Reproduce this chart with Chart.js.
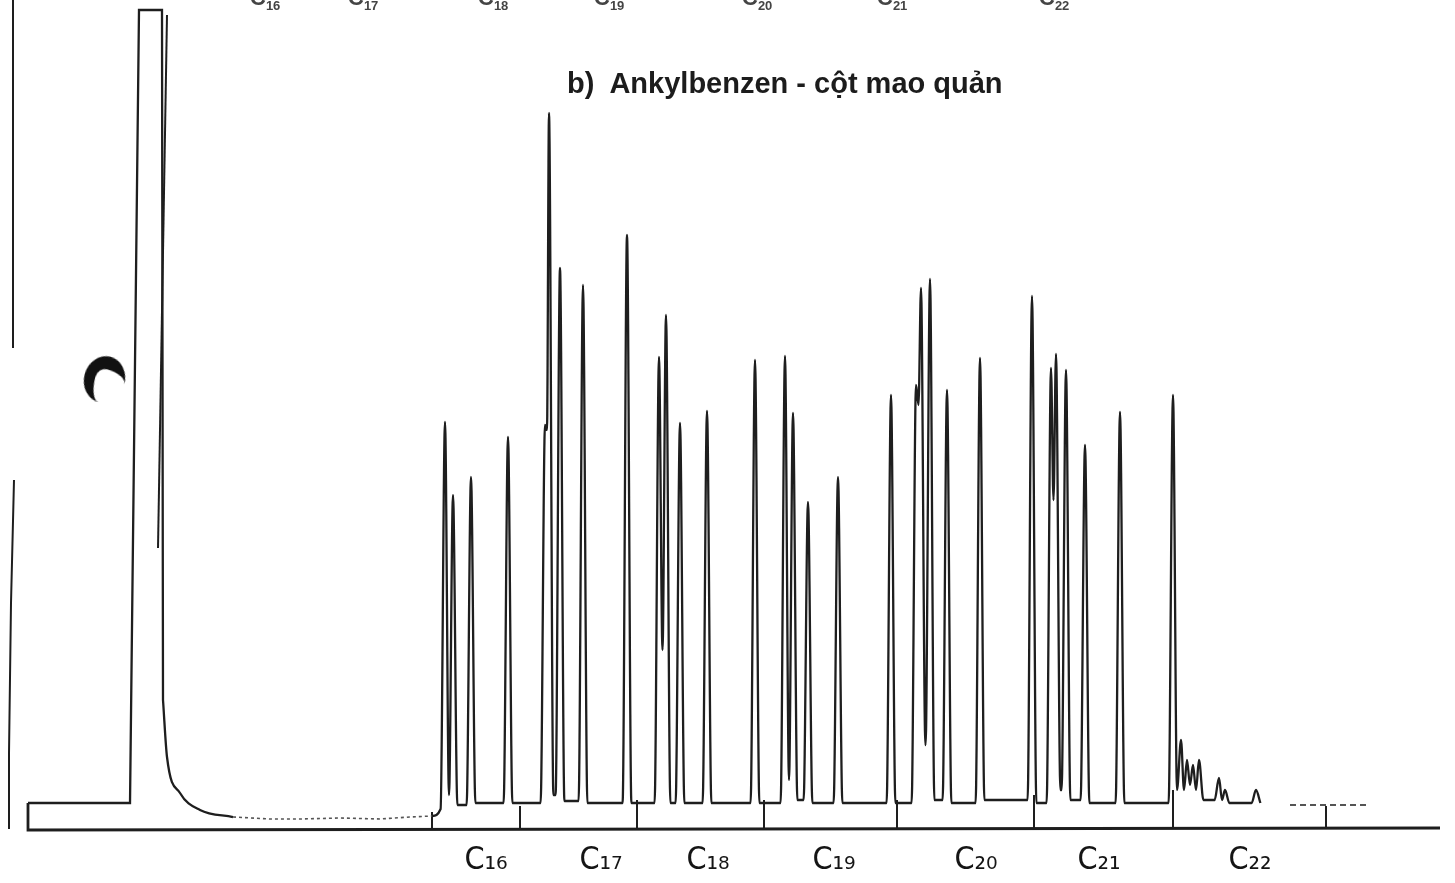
<!DOCTYPE html>
<html>
<head>
<meta charset="utf-8">
<script src="https://cdn.jsdelivr.net/npm/chart.js@4.4.1/dist/chart.umd.min.js"></script>
<style>
  body { margin: 0; background: #fff; }
  #wrap { position: relative; width: 1455px; height: 883px; overflow: hidden; }
  .title { position: absolute; left: 567px; top: 67px; font: bold 29px "Liberation Sans", Arial, sans-serif; color: #1c1c1c; white-space: pre; }
  .prev { position: absolute; top: -15px; font: bold 22px "Liberation Sans", Arial, sans-serif; color: #444; }
  .prev sub { font-size: 13px; }
  .blob { position: absolute; left: 84px; top: 356px; width: 30px; height: 34px; border-radius: 50%;
          border-top: 13px solid #111; border-left: 11px solid #111; transform: rotate(15deg); }
</style>
</head>
<body>
<div id="wrap">
  <canvas id="chromatogram"></canvas>
  <div class="title">b)  Ankylbenzen - cột mao quản</div>
  <div class="prev" style="left:250px">C<sub>16</sub></div>
  <div class="prev" style="left:348px">C<sub>17</sub></div>
  <div class="prev" style="left:478px">C<sub>18</sub></div>
  <div class="prev" style="left:594px">C<sub>19</sub></div>
  <div class="prev" style="left:742px">C<sub>20</sub></div>
  <div class="prev" style="left:877px">C<sub>21</sub></div>
  <div class="prev" style="left:1039px">C<sub>22</sub></div>
  <div class="blob"></div>
</div>
<script>
// retention time (min) / detector signal
const carbonLabels = ['C₁₆', 'C₁₇', 'C₁₈', 'C₁₉', 'C₂₀', 'C₂₁', 'C₂₂'];
const carbonLabelTimes = [24.3, 30.05, 35.4, 41.7, 48.8, 54.95, 62.5];

const segmentMarks = [21.6, 26.0, 31.85, 38.2, 44.85, 51.7, 58.65, 66.3];
const segmentMarkTops = [-0.9, -0.3, 0.3, 0.3, 0.3, 0.8, 1.3, -0.3];

// solvent peak (pen off scale) and its tail
const solventTimes = [1.4, 6.5, 6.95, 8.1, 8.15];
const solventSignal = [0, 0, 79.3, 79.3, 10.3];
const solventTailTimes = [8.15, 8.35, 9.0, 10.0, 11.65];
const solventTailSignal = [10.3, 4.6, 1.0, -0.7, -1.4];
const secondPenTimes = [8.35, 7.9];
const secondPenSignal = [78.8, 25.5];

const driftTimes = [11.65, 13.5, 15.0, 17.0, 19.0, 20.5, 21.6];
const driftSignal = [-1.4, -1.6, -1.6, -1.5, -1.6, -1.4, -1.3];

// alkylbenzene peaks: apex time, apex height, level of the valley after it
const peakTimes = [22.25, 22.65, 23.55, 25.4, 27.25, 27.45, 28.0, 29.15, 31.35,
  32.95, 33.3, 34.0, 35.35, 37.75, 39.25, 39.65, 40.4, 41.9, 44.55,
  45.8, 46.05, 46.5, 47.35, 49.0, 51.6, 52.55, 52.8, 53.3, 54.25, 56.0,
  58.65, 59.05, 59.35, 59.65, 59.95, 60.95, 61.25, 62.8];
const peakHeights = [38.1, 30.8, 32.6, 36.6, 37.8, 69.0, 53.5, 51.8, 56.8,
  44.6, 48.8, 38.0, 39.2, 44.3, 44.7, 39.0, 30.1, 32.6, 40.8,
  41.8, 51.5, 52.4, 41.3, 44.5, 50.7, 43.5, 44.9, 43.3, 35.8, 39.1,
  40.8, 6.3, 4.3, 3.8, 4.3, 2.5, 1.3, 1.3];
const valleyHeights = [0.8, -0.2, 0, 0, 37.3, 0.8, 0.2, 0, 0,
  15.3, 0, 0, 0, 0, 2.3, 0.3, 0, 0, 0,
  39.8, 5.8, 0.3, 0, 0.3, 0, 30.3, 1.3, 0.3, 0, 0,
  1.3, 1.3, 1.8, 1.3, 0.3, 0.3, 0, 0];

const tailTimes = [64.5, 68.5];
const tailSignal = [-0.2, -0.2];

const axisTimes = [1.4, 1.4, 72.0];
const axisSignal = [0, -2.7, -2.5];

const edgeTimes = [0.65, 0.65, 0.7, 0.7, 0.55, 0.45, 0.45];
const edgeSignal = [80.3, 45.5, null, 32.3, 20, 5, -2.6];

const pts = (xs, ys) => xs.map((x, i) => ({ x: x, y: ys[i] }));

const halfWidth = 0.22;
const trace = [{ x: driftTimes[driftTimes.length - 1], y: driftSignal[driftSignal.length - 1] }];
peakTimes.forEach((t, i) => {
  const prev = peakTimes[i - 1];
  const next = peakTimes[i + 1];
  if (i === 0 || t - prev > 2 * halfWidth) {
    trace.push({ x: t - halfWidth, y: i === 0 ? -0.6 : valleyHeights[i - 1] });
  }
  trace.push({ x: t, y: peakHeights[i] });
  if (next === undefined || next - t > 2 * halfWidth) {
    trace.push({ x: t + halfWidth, y: valleyHeights[i] });
  } else {
    trace.push({ x: (t + next) / 2, y: valleyHeights[i] });
  }
});

const marks = [];
segmentMarks.forEach((t, i) => {
  marks.push({ x: t, y: -2.6 }, { x: t, y: segmentMarkTops[i] }, { x: t, y: null });
});

const ink = '#1e1e1e';
const line = (data, extra) => Object.assign({
  data: data, borderColor: ink, borderWidth: 2.3, pointRadius: 0, tension: 0, fill: false
}, extra || {});

new Chart('chromatogram', {
  type: 'line',
  data: {
    datasets: [
      line(pts(solventTimes, solventSignal)),
      line(pts(solventTailTimes, solventTailSignal), { cubicInterpolationMode: 'monotone' }),
      line(pts(secondPenTimes, secondPenSignal), { borderWidth: 2 }),
      line(pts(driftTimes, driftSignal), { borderWidth: 1.6, borderDash: [3, 3], borderColor: '#555' }),
      line(trace, { cubicInterpolationMode: 'monotone' }),
      line(pts(tailTimes, tailSignal), { borderWidth: 1.6, borderDash: [6, 4] }),
      line(pts(axisTimes, axisSignal), { borderWidth: 2.8 }),
      line(marks, { borderWidth: 2 }),
      line(pts(edgeTimes, edgeSignal), { borderWidth: 2 })
    ]
  },
  options: {
    responsive: true,
    maintainAspectRatio: false,
    animation: false,
    layout: { padding: 0 },
    plugins: { legend: { display: false }, tooltip: { enabled: false } },
    scales: {
      x: {
        type: 'linear', min: 0, max: 72.75,
        border: { display: false },
        grid: { display: false, drawTicks: false },
        afterBuildTicks: axis => { axis.ticks = carbonLabelTimes.map(v => ({ value: v })); },
        ticks: {
          autoSkip: false, maxRotation: 0, padding: 6, color: '#151515',
          font: { family: 'DejaVu Sans Condensed', size: 32, lineHeight: 1 },
          callback: (value, index) => carbonLabels[index]
        }
      },
      y: { type: 'linear', min: -3.6, max: 80.3, display: false }
    }
  }
});
</script>
</body>
</html>
